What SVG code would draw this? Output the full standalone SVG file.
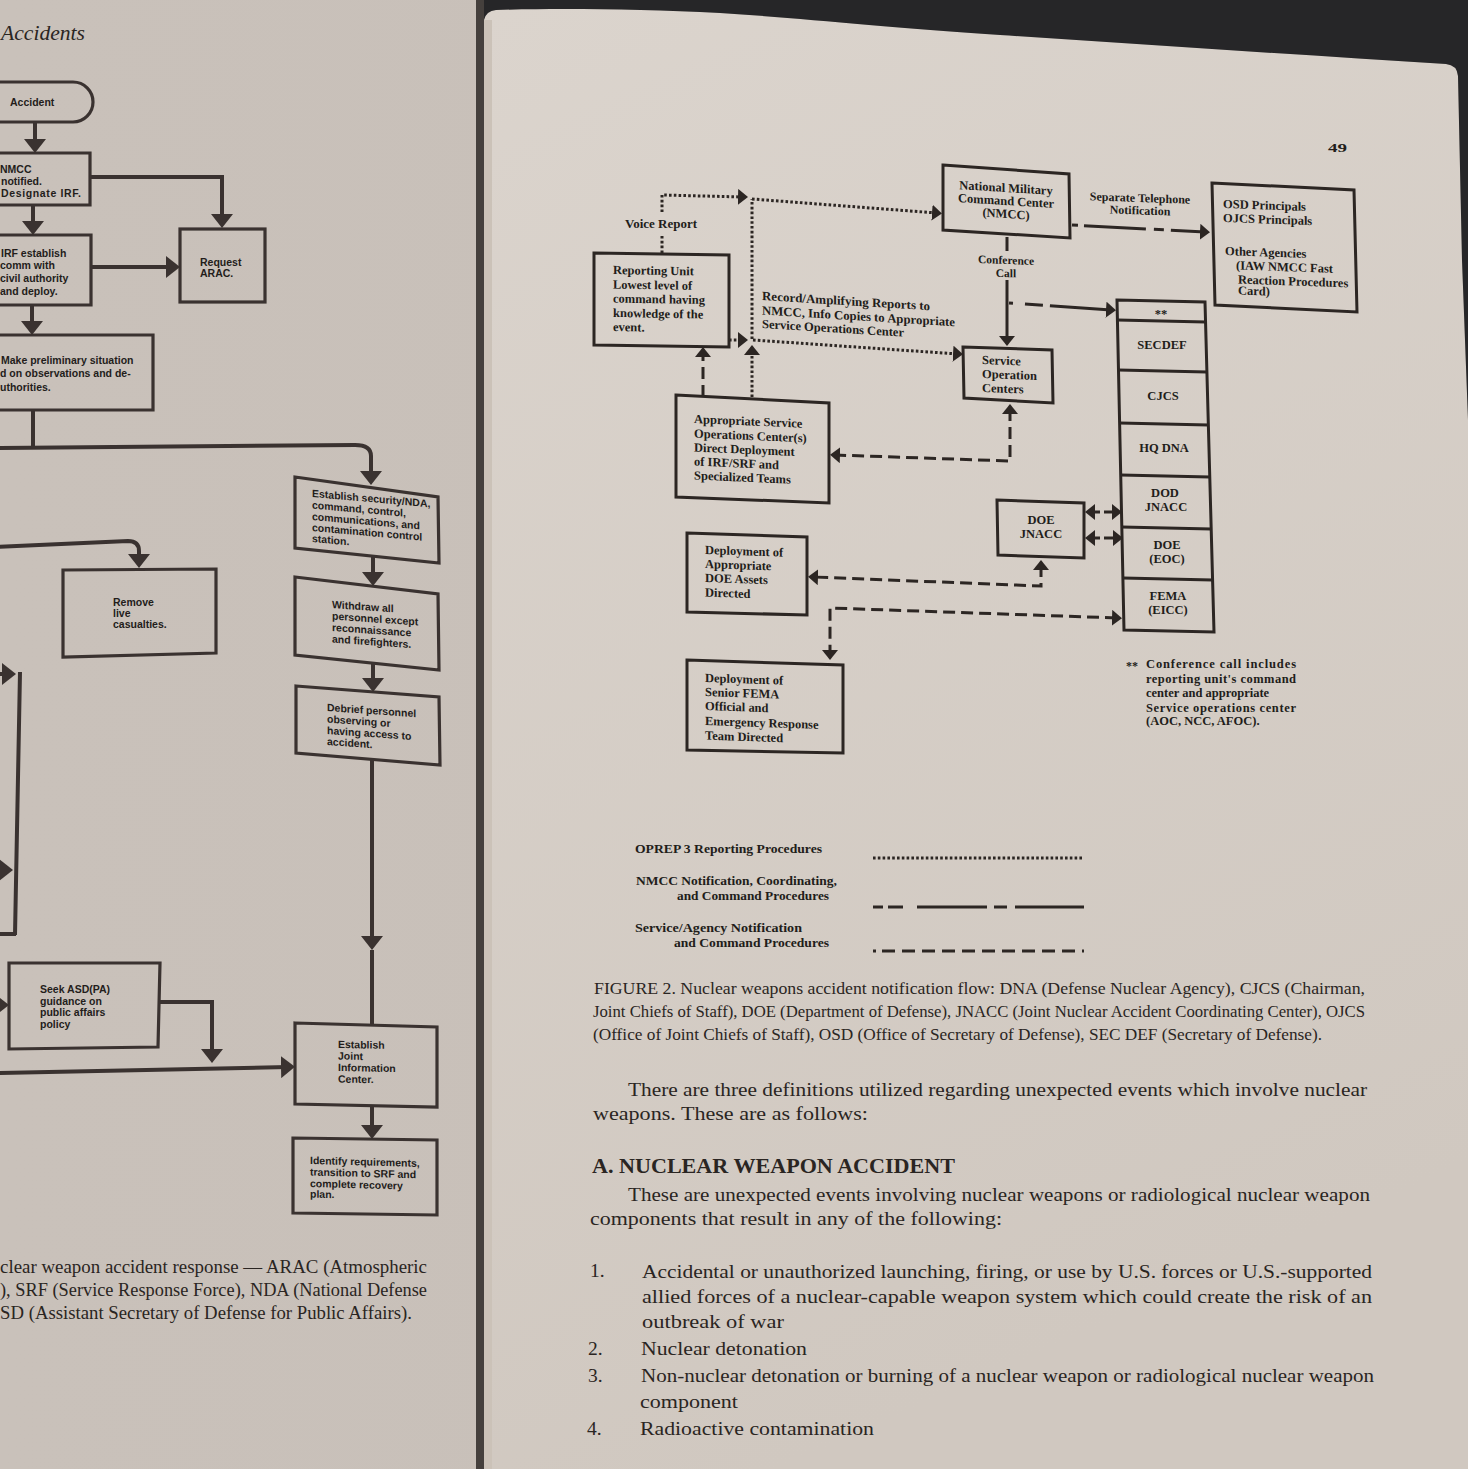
<svg xmlns="http://www.w3.org/2000/svg" width="1468" height="1469" viewBox="0 0 1468 1469">
<defs>
<linearGradient id="gR" x1="0" y1="0" x2="0.3" y2="1"><stop offset="0" stop-color="#dbd4cd"/><stop offset="1" stop-color="#d0c8c0"/></linearGradient>
<linearGradient id="gL" x1="0" y1="0" x2="1" y2="0"><stop offset="0" stop-color="#c9c1ba"/><stop offset="0.92" stop-color="#c7bfb8"/><stop offset="1" stop-color="#b9b0a9"/></linearGradient>
<marker id="aL" viewBox="0 0 14 22" markerUnits="userSpaceOnUse" markerWidth="14" markerHeight="22" refX="7" refY="11" orient="auto"><path d="M0,0 L14,11 L0,22 Z" fill="#3a3230"/></marker>
<marker id="aR" viewBox="0 0 10 16" markerUnits="userSpaceOnUse" markerWidth="10" markerHeight="16" refX="5" refY="8" orient="auto-start-reverse"><path d="M0,0 L10,8 L0,16 Z" fill="#2c2623"/></marker>
<style>
.lb{fill:none;stroke:#3a3230;stroke-width:3.2}
.ll{fill:none;stroke:#3a3230;stroke-width:4}
.lt{font-family:"Liberation Sans",Arial,sans-serif;font-weight:bold;font-size:10.5px;fill:#231d1b}
.rb{fill:none;stroke:#2c2623;stroke-width:3}
.rt{font-family:"Liberation Serif","Times New Roman",serif;font-weight:bold;font-size:12.5px;fill:#221d1a}
.dot{fill:none;stroke:#2c2623;stroke-width:3;stroke-dasharray:2.6 2.2}
.dsh{fill:none;stroke:#2c2623;stroke-width:3;stroke-dasharray:12 6}
.sol{fill:none;stroke:#2c2623;stroke-width:3}
.nm{fill:none;stroke:#2c2623;stroke-width:3;stroke-dasharray:6 6 62 8 10 7 40 4}
.nm2{fill:none;stroke:#2c2623;stroke-width:3;stroke-dasharray:4 12 18 7 70}
.cap{font-family:"Liberation Serif","Times New Roman",serif;font-size:16px;fill:#2a2522}
.body{font-family:"Liberation Serif","Times New Roman",serif;font-size:19.5px;fill:#2a2522}
</style>
</defs>

<!-- pages -->
<rect x="0" y="0" width="1468" height="1469" fill="url(#gL)"/>
<path d="M484,1469 V22 Q484,11 496,10 C560,8 640,9 720,13 C800,18 880,27 1000,35 C1150,45 1300,55 1446,64 Q1457,65 1458,76 L1462,260 L1468,420 V1469 Z" fill="url(#gR)"/>
<path d="M476,0 H1468 V420 L1462,260 L1458,76 Q1457,65 1446,64 C1300,55 1150,45 1000,35 C880,27 800,18 720,13 C640,9 560,8 496,10 Q486,11 484,20 L476,20 Z" fill="#262628"/>
<rect x="476" y="0" width="8" height="1469" fill="#45403d"/>
<rect x="484" y="20" width="8" height="1449" fill="#cbc2b8"/>

<!-- left page header and caption -->
<text x="1" y="40" font-family="'Liberation Serif','Times New Roman',serif" font-style="italic" font-size="21" fill="#2a2522" textLength="84" lengthAdjust="spacingAndGlyphs">Accidents</text>
<g class="body" font-size="19">
<text x="0" y="1273" textLength="427" lengthAdjust="spacingAndGlyphs">clear weapon accident response — ARAC (Atmospheric</text>
<text x="0" y="1296" textLength="427" lengthAdjust="spacingAndGlyphs">), SRF (Service Response Force), NDA (National Defense</text>
<text x="0" y="1319" textLength="412" lengthAdjust="spacingAndGlyphs">SD (Assistant Secretary of Defense for Public Affairs).</text>
</g>

<!-- left page nodes -->
<g id="n-accident"><path class="lb" d="M-10,82 H73 A20,20 0 0 1 73,122 H-10"/><text class="lt" x="10" y="106" font-size="10">Accident</text></g>
<g id="n-nmcc-notified"><path class="lb" d="M-10,153 H90 V205 H-10"/><g class="lt"><text x="0" y="173">NMCC</text><text x="1" y="185">notified.</text><text x="1" y="197" textLength="80" lengthAdjust="spacing">Designate IRF.</text></g></g>
<g id="n-irf-establish"><path class="lb" d="M-10,235 H91 V305 H-10"/><g class="lt"><text x="1" y="257">IRF establish</text><text x="0" y="269">comm with</text><text x="0" y="282">civil authority</text><text x="0" y="295">and deploy.</text></g></g>
<g id="n-request-arac"><rect class="lb" x="180" y="229" width="85" height="73"/><g class="lt"><text x="200" y="266">Request</text><text x="200" y="277">ARAC.</text></g></g>
<g id="n-make-preliminary"><path class="lb" d="M-10,335 H153 V410 H-10"/><g class="lt"><text x="1" y="364">Make preliminary situation</text><text x="0" y="377">d on observations and de-</text><text x="0" y="391">uthorities.</text></g></g>
<g id="n-remove"><polygon class="lb" points="63,570 216,569 216,653 63,657"/><g class="lt"><text x="113" y="606">Remove</text><text x="113" y="617">live</text><text x="113" y="628">casualties.</text></g></g>
<g id="n-establish-security"><polygon class="lb" points="295,477 438,497 439,563 295,548"/><g class="lt" font-size="10" transform="translate(312,497) skewY(5)"><text x="0" y="0">Establish security/NDA,</text><text x="0" y="11.5">command, control,</text><text x="0" y="23">communications, and</text><text x="0" y="34">contamination control</text><text x="0" y="45">station.</text></g></g>
<g id="n-withdraw"><polygon class="lb" points="295,577 438,594 439,670 295,655"/><g class="lt" font-size="10" transform="translate(332,608) skewY(4)"><text x="0" y="0">Withdraw all</text><text x="0" y="11.5">personnel except</text><text x="0" y="23">reconnaissance</text><text x="0" y="34.5">and firefighters.</text></g></g>
<g id="n-debrief"><polygon class="lb" points="296,686 439,697 440,765 296,753"/><g class="lt" transform="translate(327,711) skewY(4)"><text x="0" y="0">Debrief personnel</text><text x="0" y="11.5">observing or</text><text x="0" y="23">having access to</text><text x="0" y="34">accident.</text></g></g>
<g id="n-seek-asd"><polygon class="lb" points="9,963 160,963 158,1047 9,1049"/><g class="lt" font-size="11"><text x="40" y="993">Seek ASD(PA)</text><text x="40" y="1004.5">guidance on</text><text x="40" y="1016">public affairs</text><text x="40" y="1027.5">policy</text></g></g>
<g id="n-joint-info"><polygon class="lb" points="295,1023 437,1027 437,1107 295,1104"/><g class="lt" font-size="11" transform="translate(338,1048) skewY(1)"><text x="0" y="0">Establish</text><text x="0" y="11.5">Joint</text><text x="0" y="23">Information</text><text x="0" y="34.5">Center.</text></g></g>
<g id="n-identify"><polygon class="lb" points="293,1138 437,1140 437,1215 293,1213"/><g class="lt" transform="translate(310,1164) skewY(1.5)"><text x="0" y="0">Identify requirements,</text><text x="0" y="11.5">transition to SRF and</text><text x="0" y="23">complete recovery</text><text x="0" y="33.5">plan.</text></g></g>

<!-- right page nodes -->
<text class="rt" x="1328" y="152" font-size="17" textLength="19" lengthAdjust="spacingAndGlyphs">49</text>
<g id="n-reporting-unit"><polygon class="rb" points="594,253 729,255 729,347 594,345"/><g class="rt" transform="translate(613,274) skewY(1)"><text y="0">Reporting Unit</text><text y="14.5">Lowest level of</text><text y="28.5">command having</text><text y="43">knowledge of the</text><text y="57">event.</text></g></g>
<g id="n-appropriate-soc"><polygon class="rb" points="676,395 829,403 829,503 676,497"/><g class="rt" transform="translate(694,423) skewY(2.5)"><text y="0">Appropriate Service</text><text y="14.5">Operations Center(s)</text><text y="28.5">Direct Deployment</text><text y="42.5">of IRF/SRF and</text><text y="56.5">Specialized Teams</text></g></g>
<g id="n-nmcc"><polygon class="rb" points="943,165 1069,174 1070,238 943,230"/><g class="rt" text-anchor="middle" font-size="12" transform="translate(1006,192) skewY(3.5)"><text y="0">National Military</text><text y="13">Command Center</text><text y="26">(NMCC)</text></g></g>
<g id="n-osd"><polygon class="rb" points="1212,183 1354,190 1357,312 1215,305"/><g class="rt" font-size="11.5" transform="translate(1223,208) skewY(2)"><text x="0" y="0">OSD Principals</text><text x="0" y="14">OJCS Principals</text><text x="2" y="47">Other Agencies</text><text x="13" y="61">(IAW NMCC Fast</text><text x="15" y="75">Reaction Procedures</text><text x="15" y="86">Card)</text></g></g>
<g id="n-service-operation-centers"><polygon class="rb" points="963,347 1052,350 1053,403 964,398"/><g class="rt" transform="translate(982,364) skewY(2)"><text y="0">Service</text><text y="14">Operation</text><text y="28">Centers</text></g></g>
<g id="n-stack">
<polygon class="rb" points="1117,300 1205,302 1214,632 1124,630"/>
<g class="rb" stroke-width="2.6"><line x1="1117.4" y1="320" x2="1205.5" y2="322"/><line x1="1118.5" y1="370" x2="1206.9" y2="372"/><line x1="1119.6" y1="423" x2="1208.4" y2="425"/><line x1="1120.7" y1="475" x2="1209.8" y2="477"/><line x1="1121.8" y1="527" x2="1211.2" y2="529"/><line x1="1122.9" y1="578" x2="1212.6" y2="580"/></g>
<g class="rt" text-anchor="middle" font-size="12">
<g id="n-stack-conf"><text x="1161" y="318">**</text></g>
<g id="n-secdef"><text x="1162" y="349">SECDEF</text></g>
<g id="n-cjcs"><text x="1163" y="400">CJCS</text></g>
<g id="n-hqdna"><text x="1164" y="452">HQ DNA</text></g>
<g id="n-dod-jnacc"><text x="1165" y="497">DOD</text><text x="1166" y="511">JNACC</text></g>
<g id="n-doe-eoc"><text x="1167" y="549">DOE</text><text x="1167" y="563">(EOC)</text></g>
<g id="n-fema-eicc"><text x="1168" y="600">FEMA</text><text x="1168" y="614">(EICC)</text></g>
</g>
</g>
<g id="n-doe-jnacc"><polygon class="rb" points="997,500 1084,503 1084,558 998,555"/><g class="rt" text-anchor="middle"><text x="1041" y="524">DOE</text><text x="1041" y="538">JNACC</text></g></g>
<g id="n-deploy-doe"><polygon class="rb" points="687,533 807,537 807,615 687,612"/><g class="rt" transform="translate(705,554) skewY(2)"><text y="0">Deployment of</text><text y="14">Appropriate</text><text y="28">DOE Assets</text><text y="42.5">Directed</text></g></g>
<g id="n-deploy-fema"><polygon class="rb" points="687,660 843,665 843,753 687,750"/><g class="rt" transform="translate(705,682) skewY(2)"><text y="0">Deployment of</text><text y="14">Senior FEMA</text><text y="28">Official and</text><text y="43">Emergency Response</text><text y="57.5">Team Directed</text></g></g>

<!-- connector labels -->
<g class="rt">
<text x="625" y="228" font-size="13">Voice Report</text>
<g transform="translate(762,300) skewY(3.5)"><text y="0" textLength="168" lengthAdjust="spacingAndGlyphs">Record/Amplifying Reports to</text><text y="14.5" textLength="193" lengthAdjust="spacingAndGlyphs">NMCC, Info Copies to Appropriate</text><text y="28" textLength="142" lengthAdjust="spacingAndGlyphs">Service Operations Center</text></g>
<g text-anchor="middle" font-size="12" transform="translate(1140,202) skewY(2)"><text y="0">Separate Telephone</text><text y="12.5">Notification</text></g>
<g text-anchor="middle" font-size="11.5" transform="translate(1006,264) skewY(2)"><text y="0">Conference</text><text y="13">Call</text></g>
</g>

<!-- footnote -->
<g class="rt" font-size="11.5">
<text x="1126" y="670" font-size="12">**</text>
<text x="1146" y="668" textLength="150" lengthAdjust="spacing">Conference call includes</text>
<text x="1146" y="683" textLength="150" lengthAdjust="spacing">reporting unit's command</text>
<text x="1146" y="697">center and appropriate</text>
<text x="1146" y="712" textLength="150" lengthAdjust="spacing">Service operations center</text>
<text x="1146" y="725">(AOC, NCC, AFOC).</text>
</g>

<!-- connectors -->
<g id="connectors">
<g id="left-connectors" marker-end="url(#aL)">
<path class="ll" d="M35,122 V146"/>
<path class="ll" d="M90,177 H222 V221"/>
<path class="ll" d="M33,205 V228"/>
<path class="ll" d="M91,267 H173"/>
<path class="ll" d="M32,305 V328"/>
<path class="ll" d="M-5,448 L355,445 Q371,445 371,456 V478"/>
<path class="ll" d="M-5,547 L128,541 Q139,541 139,551 V561"/>
<path class="ll" d="M373,556 V579"/>
<path class="ll" d="M373,663 V685"/>
<path class="ll" d="M372,759 V943"/>
<path class="ll" d="M372,1106 V1132"/>
<path class="ll" d="M-5,674 H9"/>
<path class="ll" d="M-5,870 H6"/>
<path class="ll" d="M-5,1005 H2"/>
<path class="ll" d="M160,1002 H212 V1056"/>
<path class="ll" d="M-5,1073 L288,1067"/>
</g>
<g id="left-plain-lines">
<path class="ll" d="M33,410 V448"/>
<path class="ll" d="M372,950 V1025"/>
<path class="ll" d="M20,672 L15,935 M-5,934 H16"/>
</g>
<g id="right-connectors">
<path class="dot" d="M662,253 V236"/>
<path class="dot" d="M662,212 V195 L743,197" marker-end="url(#aR)"/>
<path class="dot" d="M752,199 L937,213" marker-end="url(#aR)"/>
<path class="dot" d="M752,397 V350" marker-end="url(#aR)"/>
<path class="dot" d="M752,339 V199"/>
<path class="dot" d="M729,340 H743" marker-end="url(#aR)"/>
<path class="dot" d="M753,340 L958,354" marker-end="url(#aR)"/>
<path class="dsh" d="M703,397 V352" marker-end="url(#aR)"/>
<path class="dsh" d="M1010,409 V461 L835,455" marker-start="url(#aR)" marker-end="url(#aR)"/>
<path class="dsh" d="M1041,565 V586 L813,577" marker-start="url(#aR)" marker-end="url(#aR)"/>
<path class="dsh" d="M1117,618 L830,608 V655" marker-start="url(#aR)" marker-end="url(#aR)"/>
<path class="sol" d="M1090,512 H1117" stroke-dasharray="10 4" marker-start="url(#aR)" marker-end="url(#aR)"/>
<path class="sol" d="M1090,538 H1118" stroke-dasharray="10 4" marker-start="url(#aR)" marker-end="url(#aR)"/>
<path class="nm" d="M1072,225 L1205,232" marker-end="url(#aR)"/>
<path class="sol" d="M1007,237 V251"/>
<path class="sol" d="M1007,280 V341" marker-end="url(#aR)"/>
<path class="nm2" d="M1009,303 L1111,310" marker-end="url(#aR)"/>
</g>
</g>

<!-- legend -->
<g id="legend">
<g class="rt" font-size="12.5">
<text x="635" y="853" textLength="187" lengthAdjust="spacingAndGlyphs">OPREP 3 Reporting Procedures</text>
<text x="636" y="885" textLength="201" lengthAdjust="spacingAndGlyphs">NMCC Notification, Coordinating,</text>
<text x="677" y="900" textLength="152" lengthAdjust="spacingAndGlyphs">and Command Procedures</text>
<text x="635" y="932" textLength="167" lengthAdjust="spacingAndGlyphs">Service/Agency Notification</text>
<text x="674" y="947" textLength="155" lengthAdjust="spacingAndGlyphs">and Command Procedures</text>
</g>
<path class="dot" d="M873,858 H1082"/>
<path class="sol" d="M873,907 H883 M888,907 H903 M917,907 H987 M994,907 H1007 M1015,907 H1084"/>
<path class="sol" d="M873,951 H876"/>
<path class="sol" d="M882,951 H1084" stroke-dasharray="13 7"/>
</g>

<!-- caption and body text -->
<g class="cap">
<text x="594" y="994" textLength="771" lengthAdjust="spacingAndGlyphs">FIGURE 2.  Nuclear weapons accident notification flow: DNA (Defense Nuclear Agency), CJCS (Chairman,</text>
<text x="593" y="1017" textLength="772" lengthAdjust="spacingAndGlyphs">Joint Chiefs of Staff), DOE (Department of Defense), JNACC (Joint Nuclear Accident Coordinating Center), OJCS</text>
<text x="593" y="1040" textLength="729" lengthAdjust="spacingAndGlyphs">(Office of Joint Chiefs of Staff), OSD (Office of Secretary of Defense), SEC DEF (Secretary of Defense).</text>
</g>
<g class="body">
<text x="628" y="1096" textLength="739" lengthAdjust="spacingAndGlyphs">There are three definitions utilized regarding unexpected events which involve nuclear</text>
<text x="593" y="1120" textLength="275" lengthAdjust="spacingAndGlyphs">weapons. These are as follows:</text>
<text x="592" y="1173" font-weight="bold" font-size="20" textLength="363" lengthAdjust="spacingAndGlyphs">A. NUCLEAR WEAPON ACCIDENT</text>
<text x="628" y="1201" textLength="742" lengthAdjust="spacingAndGlyphs">These are unexpected events involving nuclear weapons or radiological nuclear weapon</text>
<text x="590" y="1225" textLength="412" lengthAdjust="spacingAndGlyphs">components that result in any of the following:</text>
<text x="590" y="1277">1.</text>
<text x="642" y="1278" textLength="730" lengthAdjust="spacingAndGlyphs">Accidental or unauthorized launching, firing, or use by U.S. forces or U.S.-supported</text>
<text x="642" y="1303" textLength="730" lengthAdjust="spacingAndGlyphs">allied forces of a nuclear-capable weapon system which could create the risk of an</text>
<text x="642" y="1328" textLength="142" lengthAdjust="spacingAndGlyphs">outbreak of war</text>
<text x="588" y="1355">2.</text>
<text x="641" y="1355" textLength="166" lengthAdjust="spacingAndGlyphs">Nuclear detonation</text>
<text x="588" y="1382">3.</text>
<text x="641" y="1382" textLength="733" lengthAdjust="spacingAndGlyphs">Non-nuclear detonation or burning of a nuclear weapon or radiological nuclear weapon</text>
<text x="640" y="1408" textLength="98" lengthAdjust="spacingAndGlyphs">component</text>
<text x="587" y="1435">4.</text>
<text x="640" y="1435" textLength="234" lengthAdjust="spacingAndGlyphs">Radioactive contamination</text>
</g>
</svg>
